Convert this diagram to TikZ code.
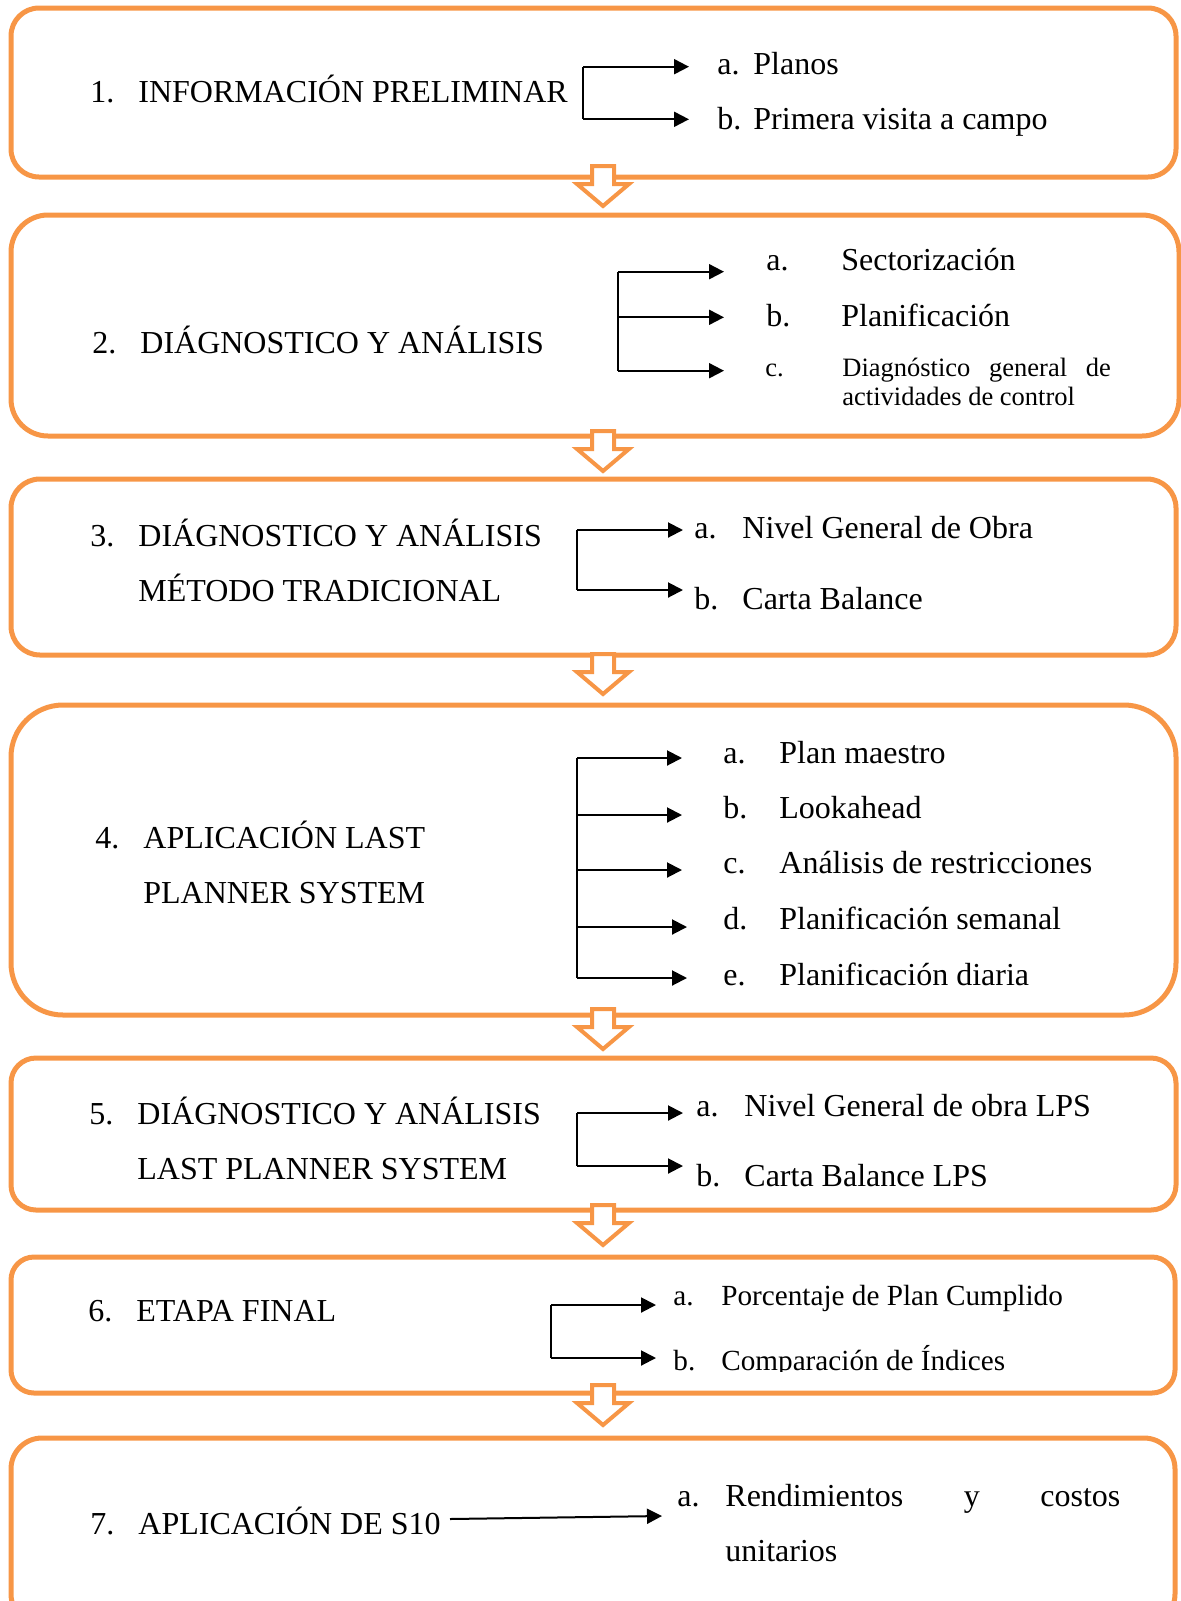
\documentclass[tikz,border=0pt]{standalone}
\usepackage{fontspec}
\setmainfont{Liberation Serif}
\usetikzlibrary{arrows.meta}
\definecolor{boxorange}{HTML}{F79646}

\newcommand\numtxt[2]{\makebox[1.5em][l]{#1}#2}
\newcommand\numtwo[3]{\parbox[t]{320pt}{\makebox[1.5em][l]{#1}#2\\\hspace*{1.5em}#3}}
\newcommand\lbl[3]{\makebox[#1][l]{#2}#3}

\begin{document}
\begin{tikzpicture}
  [x=0.5pt,y=-0.5pt,
   box/.style={draw=boxorange,line width=2.5pt},
   blockarr/.style={draw=boxorange,fill=white,line width=2pt},
   link/.style={line width=1pt},
   arr/.style={link,-{Triangle[length=7.5pt,width=7.5pt]}},
   txt/.style={inner sep=0pt,anchor=base west,font=\fontsize{16pt}{27.5pt}\selectfont},
   smalltxt/.style={txt,font=\fontsize{14.6pt}{18pt}\selectfont}]
  \useasboundingbox (0,0) rectangle (1181,1601);

  % boxes
  \draw[box,rounded corners=14pt] (11,8) rectangle (1176,177);
  \draw[box,rounded corners=18.5pt] (11,215) rectangle (1179,436);
  \draw[box,rounded corners=14.5pt] (11,479) rectangle (1176,655);
  \draw[box,rounded corners=26pt] (11,705) rectangle (1176,1015);
  \draw[box,rounded corners=12.5pt] (11,1058) rectangle (1176,1210);
  \draw[box,rounded corners=11.5pt] (11,1257) rectangle (1175,1393);
  \draw[box,rounded corners=15.5pt] (11,1438) rectangle (1175,1625);

  % arrows between boxes
  \foreach \y in {166,431,654,1009,1205,1385}
    \draw[blockarr] (592,\y) -- (614,\y) -- (614,\y+18) -- (629,\y+18)
      -- (603,\y+40) -- (577,\y+18) -- (592,\y+18) -- cycle;

  % 1
  \node[txt] (t1) at (90,102) {\numtxt{1.}{INFORMACIÓN PRELIMINAR}};
  \node[txt] (i1a) at (717,74.3) {\lbl{18pt}{a.}{Planos}};
  \node[txt] (i1b) at (717,129) {\lbl{18pt}{b.}{Primera visita a campo}};
  \coordinate (s1a) at (583,66.7);
  \coordinate (s1b) at (583,119.3);
  \coordinate (e1) at (689,0);
  \draw[link] (s1a) -- (s1b);
  \draw[arr] (s1a) -- (s1a -| e1);
  \draw[arr] (s1b) -- (s1b -| e1);

  % 2
  \node[txt] (t2) at (92,353) {\numtxt{2.}{DIÁGNOSTICO Y ANÁLISIS}};
  \node[txt] (i2a) at (766,270.7) {\lbl{37.5pt}{a.}{Sectorización}};
  \node[txt] (i2b) at (766,326.7) {\lbl{37.5pt}{b.}{Planificación}};
  \node[txt,font=\fontsize{13.25pt}{14.15pt}\selectfont] (i2c) at (765,376.7)
    {\lbl{38.5pt}{c.}{\parbox[t]{140pt}{\makebox[134.25pt][s]{Diagnóstico general de}\\actividades de control}}};
  \coordinate (s2a) at (618,271.7);
  \coordinate (s2b) at (618,317.3);
  \coordinate (s2c) at (618,370.7);
  \coordinate (e2) at (724,0);
  \draw[link] (s2a) -- (s2c);
  \draw[arr] (s2a) -- (s2a -| e2);
  \draw[arr] (s2b) -- (s2b -| e2);
  \draw[arr] (s2c) -- (s2c -| e2);

  % 3
  \node[txt] (t3) at (90,546) {\numtwo{3.}{DIÁGNOSTICO Y ANÁLISIS}{MÉTODO TRADICIONAL}};
  \node[txt] (i3a) at (694,538) {\lbl{24pt}{a.}{Nivel General de Obra}};
  \node[txt] (i3b) at (694,609) {\lbl{24pt}{b.}{Carta Balance}};
  \coordinate (s3a) at (577,530);
  \coordinate (s3b) at (577,590);
  \coordinate (e3) at (683,0);
  \draw[link] (s3a) -- (s3b);
  \draw[arr] (s3a) -- (s3a -| e3);
  \draw[arr] (s3b) -- (s3b -| e3);

  % 4
  \node[txt] (t4) at (95,848) {\numtwo{4.}{APLICACIÓN LAST}{PLANNER SYSTEM}};
  \node[txt] (i4a) at (723,763.6) {\lbl{28pt}{a.}{Plan maestro}};
  \node[txt] (i4b) at (723,818.7) {\lbl{28pt}{b.}{Lookahead}};
  \node[txt] (i4c) at (723,873.8) {\lbl{28pt}{c.}{Análisis de restricciones}};
  \node[txt] (i4d) at (723,929) {\lbl{28pt}{d.}{Planificación semanal}};
  \node[txt] (i4e) at (723,985) {\lbl{28pt}{e.}{Planificación diaria}};
  \coordinate (s4a) at (577,758);
  \coordinate (s4b) at (577,815);
  \coordinate (s4c) at (577,870);
  \coordinate (s4d) at (577,927);
  \coordinate (s4e) at (577,978);
  \coordinate (e4) at (682,0);
  \coordinate (f4) at (687,0);
  \draw[link] (s4a) -- (s4e);
  \draw[arr] (s4a) -- (s4a -| e4);
  \draw[arr] (s4b) -- (s4b -| e4);
  \draw[arr] (s4c) -- (s4c -| e4);
  \draw[arr] (s4d) -- (s4d -| f4);
  \draw[arr] (s4e) -- (s4e -| f4);

  % 5
  \node[txt] (t5) at (89,1124) {\numtwo{5.}{DIÁGNOSTICO Y ANÁLISIS}{LAST PLANNER SYSTEM}};
  \node[txt] (i5a) at (696,1116) {\lbl{24pt}{a.}{Nivel General de obra LPS}};
  \node[txt] (i5b) at (696,1186) {\lbl{24pt}{b.}{Carta Balance LPS}};
  \coordinate (s5a) at (577,1113);
  \coordinate (s5b) at (577,1166);
  \coordinate (e5) at (683,0);
  \draw[link] (s5a) -- (s5b);
  \draw[arr] (s5a) -- (s5a -| e5);
  \draw[arr] (s5b) -- (s5b -| e5);

  % 6
  \node[txt] (t6) at (88,1321) {\numtxt{6.}{ETAPA FINAL}};
  \node[smalltxt] (i6a) at (673,1305.6) {\lbl{24pt}{a.}{Porcentaje de Plan Cumplido}};
  \begin{scope}
    \clip (0,0) rectangle (1181,1371);
    \node[smalltxt] (i6b) at (673,1370) {\lbl{24pt}{b.}{Comparación de Índices}};
  \end{scope}
  \coordinate (s6a) at (551,1305);
  \coordinate (s6b) at (551,1358);
  \coordinate (e6) at (656,0);
  \draw[link] (s6a) -- (s6b);
  \draw[arr] (s6a) -- (s6a -| e6);
  \draw[arr] (s6b) -- (s6b -| e6);

  % 7
  \node[txt] (t7) at (90,1534) {\numtxt{7.}{APLICACIÓN DE S10}};
  \node[txt] (i7a) at (677,1506)
    {\lbl{24pt}{a.}{\parbox[t]{200pt}{\makebox[197.5pt][s]{Rendimientos y costos}\\unitarios}}};
  \coordinate (s7a) at (450,1519);
  \coordinate (e7a) at (662,1516);
  \draw[arr] (s7a) -- (e7a);
\end{tikzpicture}
\end{document}
